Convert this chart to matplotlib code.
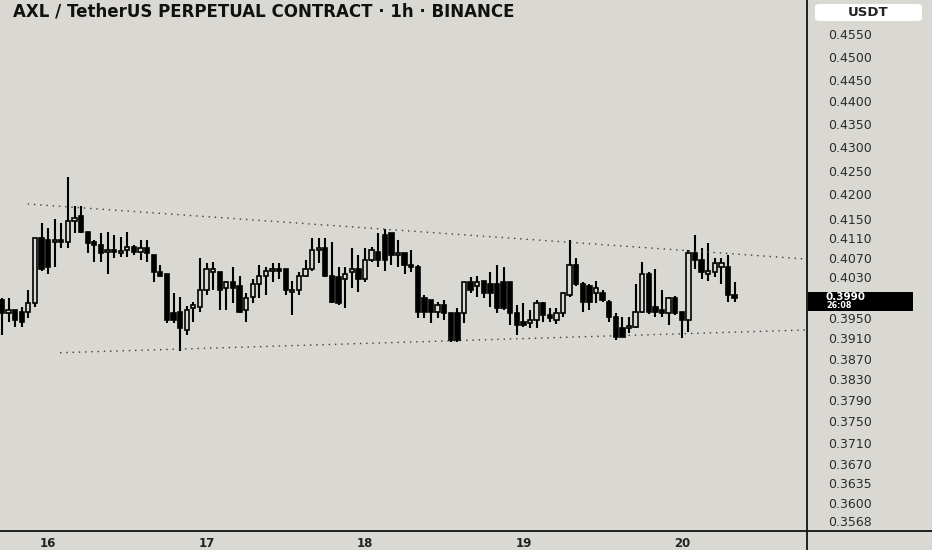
import matplotlib.pyplot as plt
import numpy as np
from matplotlib.lines import Line2D
from matplotlib.patches import FancyBboxPatch, Rectangle

# donnees (bougies 1h, de 15 17h a 20 ~08h)
opens = [0.3986, 0.3960, 0.3966, 0.3962, 0.3962, 0.3980, 0.4110, 0.4106, 0.4102, 0.4106,
         0.4102, 0.4146, 0.4156, 0.4122, 0.4102, 0.4096, 0.4082, 0.4086, 0.4080, 0.4086,
         0.4092, 0.4082, 0.4090, 0.4076, 0.4040, 0.4036, 0.3960, 0.3962, 0.3926, 0.3970,
         0.3972, 0.4006, 0.4040, 0.4040, 0.4010, 0.4020, 0.4012, 0.3966, 0.3992, 0.4016,
         0.4032, 0.4042, 0.4046, 0.4046, 0.4002, 0.4006, 0.4032, 0.4046, 0.4086, 0.4090,
         0.4032, 0.4030, 0.4026, 0.4040, 0.4046, 0.4026, 0.4066, 0.4082, 0.4116, 0.4120,
         0.4076, 0.4080, 0.4056, 0.4052, 0.3990, 0.3986, 0.3962, 0.3976, 0.3960, 0.3960,
         0.3960, 0.4020, 0.4012, 0.4022, 0.4016, 0.4016, 0.4020, 0.4020, 0.3960, 0.3942,
         0.3940, 0.3946, 0.3980, 0.3956, 0.3946, 0.3960, 0.3996, 0.4056, 0.4016, 0.4012,
         0.4000, 0.4000, 0.3982, 0.3952, 0.3930, 0.3930, 0.3932, 0.3962, 0.4036, 0.3972,
         0.3966, 0.3960, 0.3990, 0.3962, 0.3946, 0.4080, 0.4066, 0.4036, 0.4040, 0.4052,
         0.4052, 0.3996]
highs = [0.3990, 0.3990, 0.3966, 0.3972, 0.4006, 0.4110, 0.4142, 0.4132, 0.4150, 0.4142,
         0.4236, 0.4176, 0.4176, 0.4122, 0.4106, 0.4120, 0.4122, 0.4116, 0.4112, 0.4122,
         0.4096, 0.4106, 0.4106, 0.4076, 0.4056, 0.4036, 0.4000, 0.3992, 0.3974, 0.3982,
         0.4070, 0.4060, 0.4062, 0.4040, 0.4022, 0.4052, 0.4032, 0.4000, 0.4026, 0.4056,
         0.4052, 0.4060, 0.4060, 0.4046, 0.4022, 0.4040, 0.4066, 0.4110, 0.4110, 0.4110,
         0.4102, 0.4050, 0.4052, 0.4090, 0.4076, 0.4090, 0.4092, 0.4120, 0.4130, 0.4120,
         0.4106, 0.4080, 0.4086, 0.4056, 0.3996, 0.3986, 0.3982, 0.3986, 0.3960, 0.3970,
         0.4020, 0.4030, 0.4032, 0.4022, 0.4040, 0.4056, 0.4052, 0.4020, 0.3976, 0.3980,
         0.3966, 0.3986, 0.3982, 0.3970, 0.3970, 0.4002, 0.4106, 0.4070, 0.4020, 0.4016,
         0.4022, 0.4006, 0.3986, 0.3960, 0.3952, 0.3952, 0.4016, 0.4062, 0.4040, 0.4046,
         0.4006, 0.3992, 0.3994, 0.3962, 0.4086, 0.4116, 0.4090, 0.4100, 0.4070, 0.4070,
         0.4076, 0.4020]
lows = [0.3916, 0.3942, 0.3932, 0.3932, 0.3950, 0.3972, 0.4042, 0.4036, 0.4052, 0.4090,
        0.4090, 0.4120, 0.4120, 0.4080, 0.4062, 0.4062, 0.4036, 0.4070, 0.4072, 0.4072,
        0.4076, 0.4066, 0.4062, 0.4020, 0.4030, 0.3940, 0.3940, 0.3886, 0.3916, 0.3942,
        0.3962, 0.3996, 0.4006, 0.3966, 0.3966, 0.3980, 0.3960, 0.3942, 0.3980, 0.3990,
        0.3996, 0.4020, 0.4026, 0.3996, 0.3956, 0.3996, 0.4030, 0.4042, 0.4060, 0.4030,
        0.3980, 0.3976, 0.3970, 0.4010, 0.4002, 0.4020, 0.4062, 0.4052, 0.4042, 0.4056,
        0.4052, 0.4036, 0.4040, 0.3950, 0.3950, 0.3940, 0.3950, 0.3946, 0.3902, 0.3902,
        0.3940, 0.4000, 0.3992, 0.3990, 0.3972, 0.3960, 0.3966, 0.3936, 0.3916, 0.3932,
        0.3930, 0.3930, 0.3942, 0.3942, 0.3938, 0.3952, 0.3992, 0.4012, 0.3962, 0.3966,
        0.3980, 0.3982, 0.3942, 0.3906, 0.3912, 0.3920, 0.3930, 0.3960, 0.3958, 0.3952,
        0.3952, 0.3936, 0.3956, 0.3910, 0.3922, 0.4046, 0.4026, 0.4022, 0.4030, 0.4016,
        0.3982, 0.3982]
closes = [0.3960, 0.3966, 0.3946, 0.3942, 0.3980, 0.4110, 0.4046, 0.4050, 0.4106, 0.4102,
          0.4146, 0.4152, 0.4122, 0.4100, 0.4096, 0.4080, 0.4086, 0.4082, 0.4084, 0.4092,
          0.4082, 0.4090, 0.4080, 0.4040, 0.4032, 0.3946, 0.3946, 0.3930, 0.3966, 0.3976,
          0.4006, 0.4046, 0.4046, 0.4006, 0.4020, 0.4010, 0.3962, 0.3990, 0.4016, 0.4032,
          0.4042, 0.4046, 0.4042, 0.4006, 0.4006, 0.4032, 0.4046, 0.4086, 0.4090, 0.4032,
          0.3982, 0.3980, 0.4036, 0.4046, 0.4026, 0.4066, 0.4086, 0.4066, 0.4066, 0.4076,
          0.4080, 0.4056, 0.4052, 0.3962, 0.3962, 0.3962, 0.3976, 0.3960, 0.3906, 0.3906,
          0.4020, 0.4006, 0.4020, 0.4000, 0.4000, 0.3970, 0.3970, 0.3960, 0.3936, 0.3936,
          0.3946, 0.3980, 0.3956, 0.3950, 0.3960, 0.4000, 0.4056, 0.4016, 0.3982, 0.3982,
          0.4010, 0.3986, 0.3952, 0.3912, 0.3912, 0.3932, 0.3962, 0.4036, 0.3962, 0.3962,
          0.3960, 0.3990, 0.3960, 0.3946, 0.4080, 0.4066, 0.4040, 0.4042, 0.4060, 0.4060,
          0.3996, 0.3990]

day_idx = [7, 31, 55, 79, 103]
day_labels = ['16', '17', '18', '19', '20']

# lignes de tendance (pointillés)
upper_x = [3.9, 121.7]
upper_y = [0.4180, 0.4068]
lower_x = [8.8, 121.7]
lower_y = [0.3882, 0.3926]

last_price = 0.3990
countdown = '26:08'

# echelle de prix de TradingView (pas régulière) : prix -> rangée de pixels
scale_prices = np.array([0.0, 0.3550, 0.3568, 0.3600, 0.3635, 0.3670, 0.3710, 0.3750, 0.3790,
                         0.3830, 0.3870, 0.3910, 0.3950, 0.3990, 0.4030, 0.4070, 0.4110,
                         0.4150, 0.4200, 0.4250, 0.4300, 0.4350, 0.4400, 0.4450, 0.4500,
                         0.4550, 0.4624, 1.0])
scale_rows = np.array([2519, 531, 521, 503, 483, 464, 443, 421, 400, 379, 359, 338, 318, 298,
                       277, 258, 238, 219, 194, 171, 147, 124, 101, 80, 57, 34, 0, -2473])
tick_prices = [p for p in scale_prices[2:-2] if abs(p - last_price) > 1e-6]


def forward(v):
    return -np.interp(v, scale_prices, scale_rows)


def inverse(v):
    return np.interp(-np.asarray(v), scale_rows[::-1], scale_prices[::-1])


bg = '#d9d8d3'
W, H = 932, 550
fig = plt.figure(figsize=(W / 100, H / 100), dpi=100, facecolor=bg)
ax = fig.add_axes([0, 19 / H, 807 / W, 531 / H], facecolor=bg)
ax.set_yscale('function', functions=(forward, inverse))

x = np.arange(len(opens))
o = np.array(opens)
c = np.array(closes)
up = c >= o
ax.vlines(x, lows, highs, color='black', linewidth=1.5, zorder=2)
ax.bar(x[up], np.maximum(c[up] - o[up], 0.0003), 0.64, bottom=o[up],
       facecolor=bg, edgecolor='black', linewidth=1.2, zorder=3)
ax.bar(x[~up], np.maximum(o[~up] - c[~up], 0.0003), 0.64, bottom=c[~up],
       facecolor='black', edgecolor='black', linewidth=1.2, zorder=3)

ax.plot(upper_x, upper_y, color='#3a3a3a', linewidth=1.0, dashes=(1, 3.5))
ax.plot(lower_x, lower_y, color='#3a3a3a', linewidth=1.0, dashes=(1, 3.5))

ax.set_xlim(-0.3, 121.97)
ax.set_ylim(0.3550, 0.4624)

ax.set_xticks(day_idx)
ax.set_xticklabels(day_labels, fontsize=8.5, fontweight='bold', color='#222222')
ax.yaxis.tick_right()
ax.set_yticks(tick_prices)
ax.set_yticklabels(['%.4f' % p for p in tick_prices], fontsize=9, color='#2b2b2b')
ax.yaxis.set_minor_locator(plt.NullLocator())
ax.tick_params(axis='y', length=0, pad=15)
ax.tick_params(axis='x', length=0, pad=4)
for s in ax.spines.values():
    s.set_visible(False)

# lignes de séparation des panneaux
fig.add_artist(Line2D([807 / W, 807 / W], [0, 1], color='#111111', linewidth=1.3))
fig.add_artist(Line2D([0, 1], [19 / H, 19 / H], color='#111111', linewidth=1.3))

# étiquette du dernier prix
y_last = ax.transData.transform((0, last_price))[1] / H
fig.add_artist(Rectangle((808 / W, y_last - 13 / H), 105 / W, 19 / H,
                         transform=fig.transFigure, facecolor='black', edgecolor='none'))
fig.text(826 / W, y_last + 1.5 / H, '%.4f' % last_price, ha='left', va='center',
         fontsize=7.5, color='white', fontweight='bold')
fig.text(826 / W, y_last - 8 / H, countdown, ha='left', va='center',
         fontsize=5.8, color='white', fontweight='bold')

# boite USDT
fig.add_artist(FancyBboxPatch((815 / W, 1 - 21 / H), 107 / W, 17 / H,
                              boxstyle='round,pad=0,rounding_size=0.005',
                              transform=fig.transFigure, facecolor='white', edgecolor='none'))
fig.text(868 / W, 1 - 12.5 / H, 'USDT', ha='center', va='center',
         fontsize=9.5, fontweight='bold', color='#222222')

fig.text(13 / W, 1 - 12 / H, 'AXL / TetherUS PERPETUAL CONTRACT \u00b7 1h \u00b7 BINANCE',
         ha='left', va='center', fontsize=12, fontweight='bold', color='#111111')

plt.savefig('out.png', dpi=100, facecolor=bg)
plt.close()
